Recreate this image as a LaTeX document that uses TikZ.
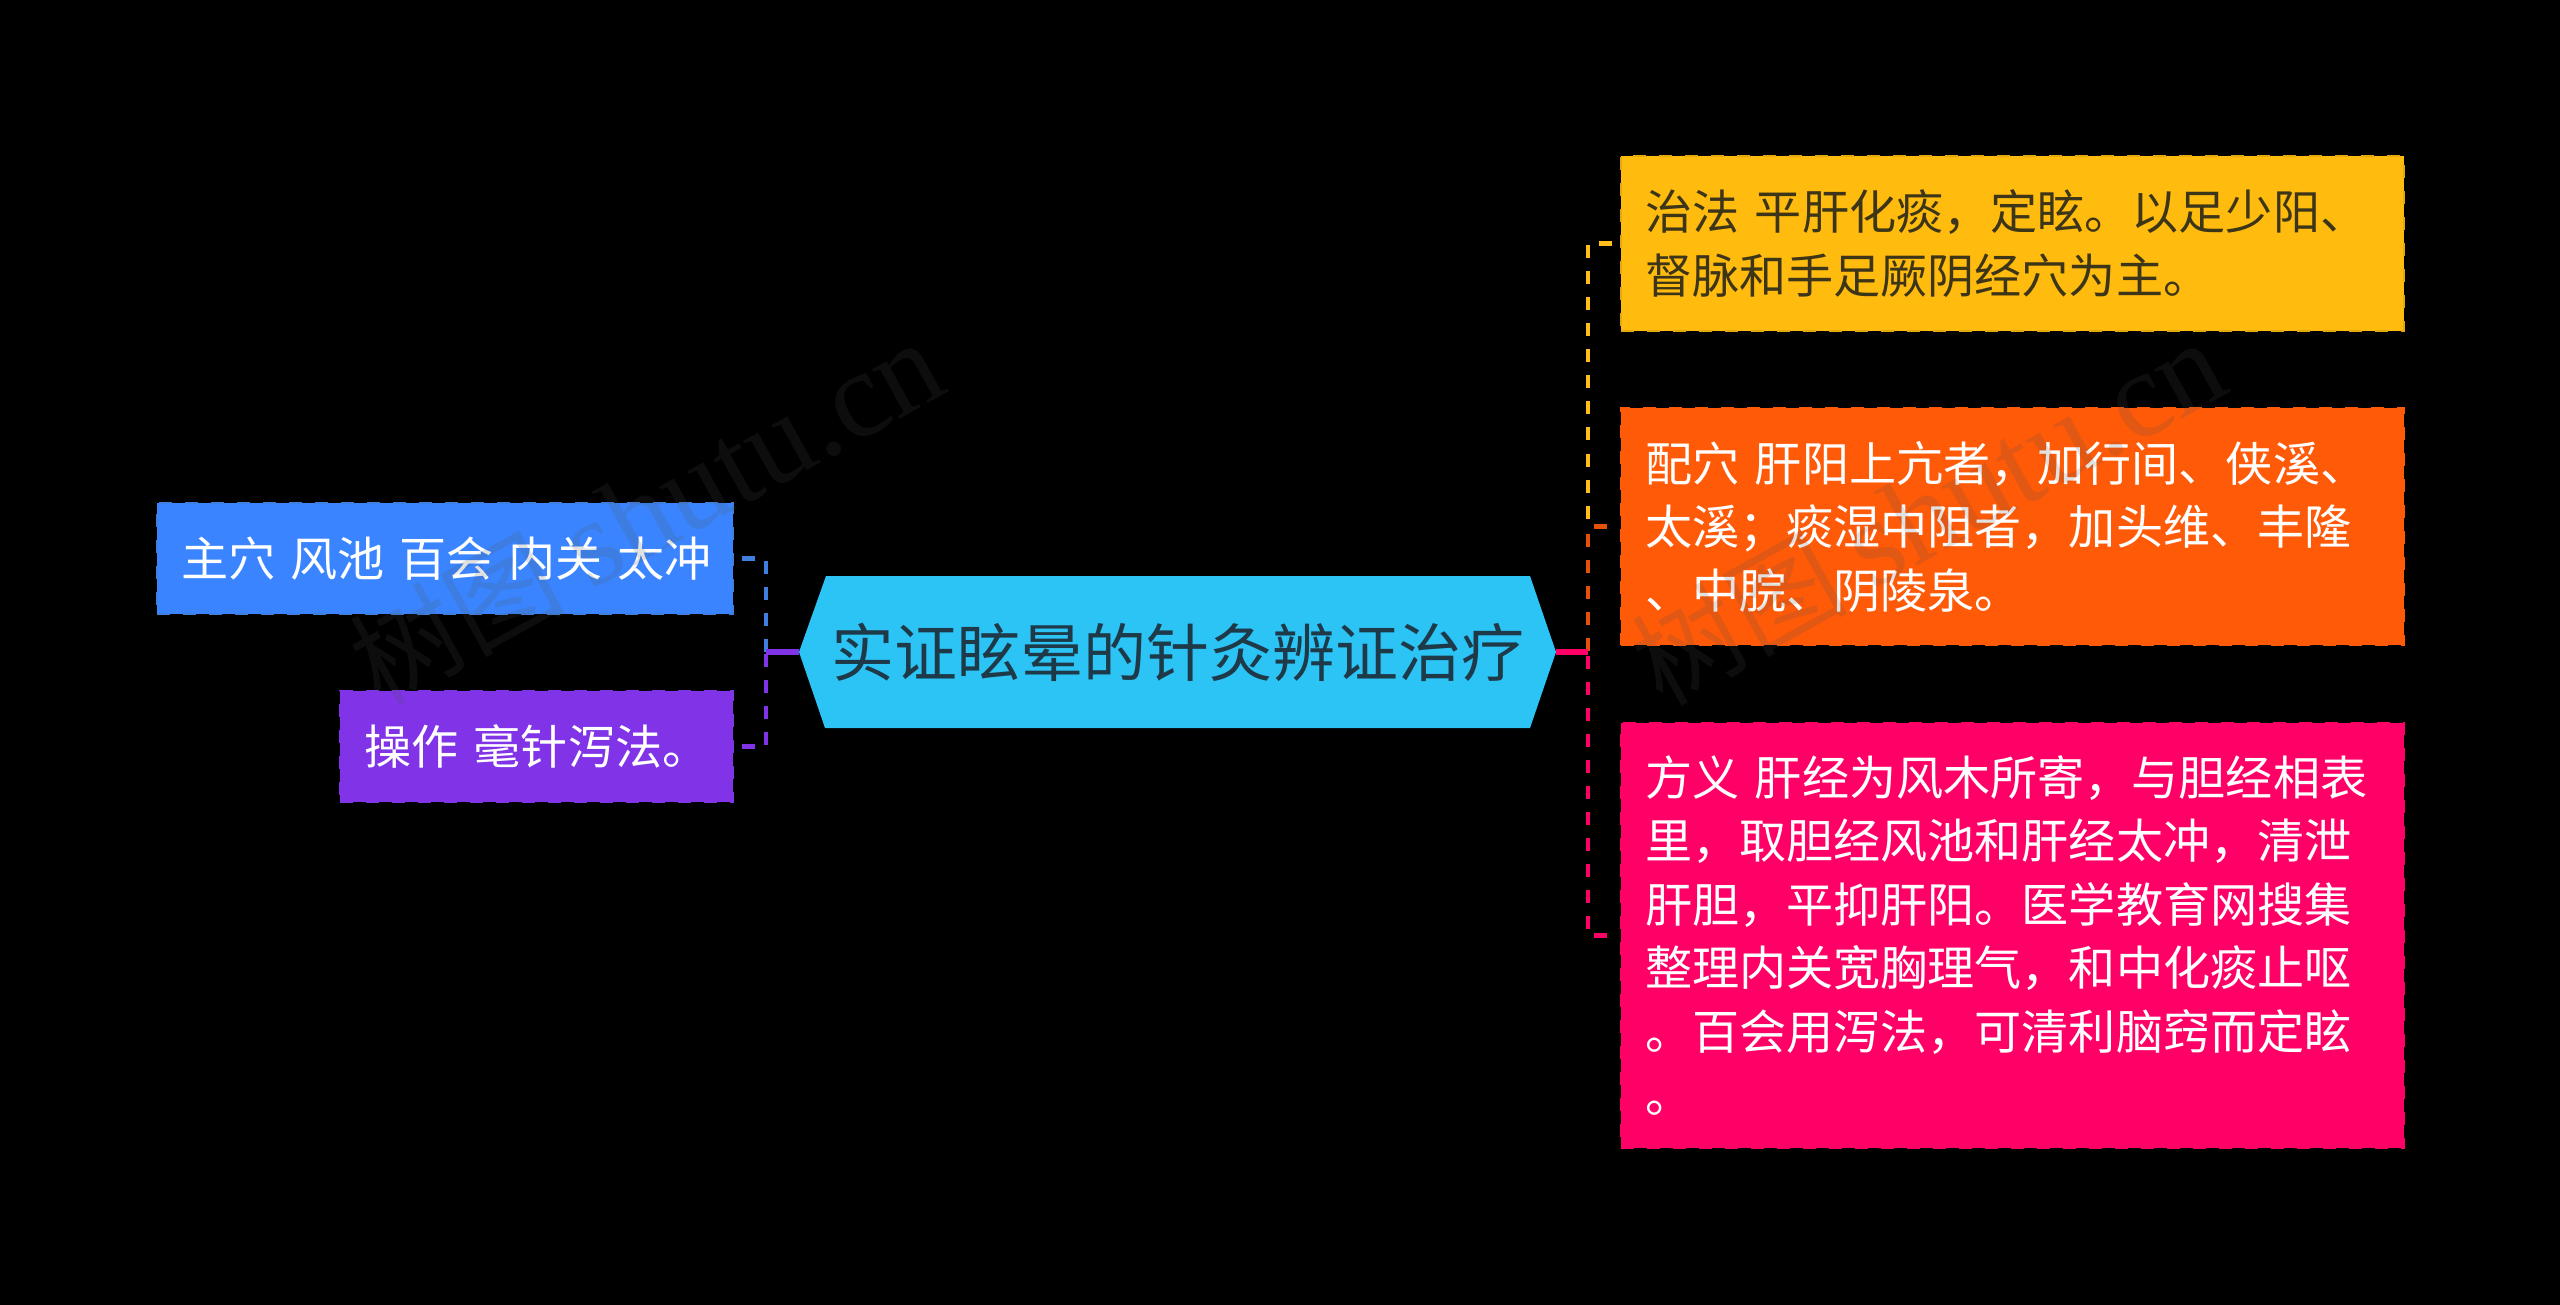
\documentclass[tikz,border=0pt]{standalone}
\usepackage{fontspec}
\setmainfont{Noto Sans CJK SC}
\newfontfamily\wmlatin{Liberation Serif}
\usetikzlibrary{calc}
\definecolor{cblue}{HTML}{3A85FF}
\definecolor{cblueb}{HTML}{3F7FDD}
\definecolor{cpurple}{HTML}{8133E8}
\definecolor{cyellow}{HTML}{FFBB0E}
\definecolor{corange}{HTML}{FF5A08}
\definecolor{cpink}{HTML}{FF0066}
\definecolor{ccyan}{HTML}{2CC3F5}
\definecolor{ctxtroot}{HTML}{1E3A48}
\definecolor{ctxtyellow}{HTML}{3D3518}
\definecolor{wmgray}{HTML}{505050}
\tikzset{
  x=1pt,y=-1pt,
  leaf/.style={rectangle,inner sep=0pt,outer sep=0pt,line width=2.5pt,dash pattern=on 13pt off 13pt,
    align=left,font=\fontsize{47.1}{63.5}\selectfont},
  rootnode/.style={rectangle,inner sep=0pt,outer sep=0pt,minimum width=757pt,minimum height=152pt,
    align=center,text=ctxtroot,font=\fontsize{63}{80}\selectfont},
  elbow/.style={line width=4.5pt,dash pattern=on 13pt off 13pt},
  trunk/.style={line width=6pt},
  watermark/.style={rotate=29,text=wmgray,text opacity=.17,font=\fontsize{108}{128}\selectfont,inner sep=0pt},
}
\begin{document}
\begin{tikzpicture}
\useasboundingbox[fill=black] (0,0) rectangle (2560,1305);
% root
\fill[ccyan] (799,652) -- (826,576) -- (1530,576) -- (1556,652) -- (1530,728) -- (825,728) -- cycle;
\node[rootnode] (root) at (1177.5,652) {实证眩晕的针灸辨证治疗};
% left leaves
\node[leaf,draw=cblueb,fill=cblue,text=white,minimum width=576pt,minimum height=111pt,text width=528pt] (zhuxue) at (445,558.5) {\spaceskip=.318em\mbox{主穴 风池 百会 内关 太冲}};
\node[leaf,draw=cpurple,fill=cpurple,text=white,minimum width=393pt,minimum height=111pt,text width=345pt] (caozuo) at (536.5,746.5) {\mbox{操作 毫针泻法。}};
% right leaves
\node[leaf,draw=cyellow!90!black,fill=cyellow,text=ctxtyellow,minimum width=783pt,minimum height=175pt,text width=735pt] (zhifa) at (2012.5,243.5) {治法 平肝化痰，定眩。以足少阳、\\督脉和手足厥阴经穴为主。};
\node[leaf,draw=corange,fill=corange,text=white,minimum width=783pt,minimum height=237pt,text width=735pt] (peixue) at (2012.5,526.5) {配穴 肝阳上亢者，加行间、侠溪、\\太溪；痰湿中阻者，加头维、丰隆\\、中脘、阴陵泉。};
\node[leaf,draw=cpink,fill=cpink,text=white,minimum width=783pt,minimum height=425pt,text width=735pt] (fangyi) at (2012.5,935.5) {方义 肝经为风木所寄，与胆经相表\\里，取胆经风池和肝经太冲，清泄\\肝胆，平抑肝阳。医学教育网搜集\\整理内关宽胸理气，和中化痰止呕\\。百会用泻法，可清利脑窍而定眩\\。};
% junctions and connector ends
\coordinate (hubL) at ($(root.west)+(-33,0)$);
\coordinate (hubR) at ($(root.east)+(32,0)$);
\coordinate (sBlue) at ($(zhuxue.east)+(9,0)$);
\coordinate (sPurple) at ($(caozuo.east)+(9,0)$);
\coordinate (sYellow) at ($(zhifa.west)+(-9,0)$);
\coordinate (sOrange) at ($(peixue.west)+(-14,0)$);
\coordinate (sPink) at ($(fangyi.west)+(-14,0)$);
% connectors
\draw[elbow,draw=cyellow!95!white] (sYellow) -- (sYellow -| hubR) -- (sOrange -| hubR);
\draw[elbow,draw=corange!90!black] (sOrange) -- (sOrange -| hubR) -- (hubR);
\draw[elbow,draw=cpink] (sPink) -- (sPink -| hubR) -- (hubR);
\draw[trunk,draw=cpink] (root.east) -- (hubR);
\draw[elbow,draw=cblueb] (sBlue) -- (sBlue -| hubL) -- (hubL);
\draw[elbow,draw=cpurple] (sPurple) -- (sPurple -| hubL) -- (hubL);
\draw[trunk,draw=cpurple] (root.west) -- (hubL);
% watermark
\node[watermark] (wm1) at (646,513) {树图 {\wmlatin\fontsize{123}{128}\selectfont shutu.cn}};
\node[watermark] (wm2) at (1928,513) {树图 {\wmlatin\fontsize{123}{128}\selectfont shutu.cn}};
\end{tikzpicture}
\end{document}
